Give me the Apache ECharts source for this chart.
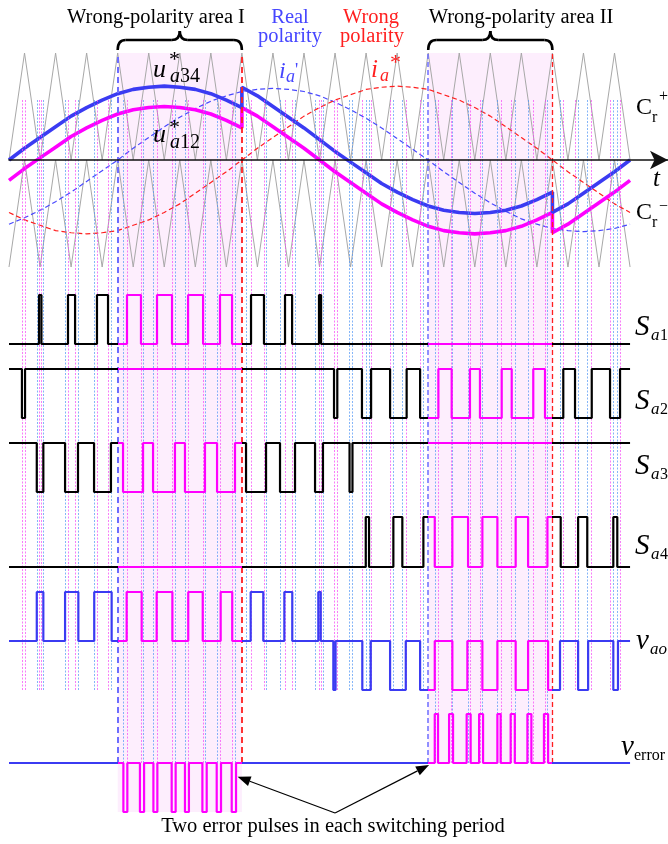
<!DOCTYPE html>
<html><head><meta charset="utf-8">
<script src="https://cdn.jsdelivr.net/npm/echarts/dist/echarts.min.js"></script>
<style>html,body{margin:0;padding:0;background:#fff}#c{width:668px;height:844px}</style>
</head><body><div id="c"></div>
<script>
// ---------- DATA (electrical angle in degrees, 20 carrier periods per fundamental) ----------
const wrongAreas = [[63, 135], [243, 315]];
const angles = [0,9,18,27,36,45,54,63,72,81,90,99,108,117,126,135,144,153,162,171,180,189,198,207,216,225,234,243,252,261,270,279,288,297,306,315,324,333,342,351,360];
const crUpper = [0,1,0,1,0,1,0,1,0,1,0,1,0,1,0,1,0,1,0,1,0,1,0,1,0,1,0,1,0,1,0,1,0,1,0,1,0,1,0,1,0];
const crLower = [-1,0,-1,0,-1,0,-1,0,-1,0,-1,0,-1,0,-1,0,-1,0,-1,0,-1,0,-1,0,-1,0,-1,0,-1,0,-1,0,-1,0,-1,0,-1,0,-1,0,-1];
const refAngles = [0,9,18,27,36,45,54,63,72,81,90,99,108,117,126,135,135,144,153,162,171,180,189,198,207,216,225,234,243,252,261,270,279,288,297,306,315,315,324,333,342,351,360];
const ua34 = [0,.11,.21,.31,.41,.49,.56,.62,.66,.68,.69,.68,.66,.62,.56,.49,.68,.60,.50,.40,.30,.19,.08,-.02,-.12,-.22,-.30,-.37,-.43,-.47,-.49,-.50,-.49,-.47,-.43,-.37,-.30,-.49,-.41,-.31,-.21,-.11,0];
const ua12 = [-.19,-.08,.02,.12,.22,.30,.37,.43,.47,.49,.50,.49,.47,.43,.37,.30,.49,.41,.31,.21,.11,0,-.11,-.21,-.31,-.41,-.49,-.56,-.62,-.66,-.68,-.69,-.68,-.66,-.62,-.56,-.49,-.68,-.60,-.50,-.40,-.30,-.19];
const iaReal = [-.60,-.54,-.47,-.39,-.30,-.20,-.10,0,.11,.21,.31,.40,.48,.55,.60,.64,.66,.67,.66,.64,.60,.54,.47,.39,.30,.20,.10,0,-.11,-.21,-.31,-.40,-.48,-.55,-.60,-.64,-.66,-.67,-.66,-.64,-.60];
const iaWrong = [-.49,-.56,-.61,-.66,-.68,-.69,-.68,-.66,-.61,-.56,-.49,-.41,-.31,-.21,-.11,0,.11,.21,.31,.41,.49,.56,.61,.66,.68,.69,.68,.66,.61,.56,.49,.41,.31,.21,.11,0,-.11,-.21,-.31,-.41,-.49];

// switching signals: [angle, level from this angle on]
const sa1 = [[0,0],[17.4,1],[18.8,0],[34.2,1],[38.3,0],[51.0,1],[57.4,0],[68.4,1],[76.5,0],[85.8,1],[94.5,0],[103.8,1],[112.5,0],[122.3,1],[129.3,0],[140.3,1],[147.8,0],[160.0,1],[164.1,0],[179.7,1],[180.9,0],[360,0]];
const sa2 = [[0,1],[7.5,0],[9.3,1],[188.4,0],[190.3,1],[204.6,0],[209.9,1],[220.9,0],[230.5,1],[238.3,0],[248.9,1],[256.6,0],[267.2,1],[273.0,0],[285.6,1],[291.4,0],[303.9,1],[310.7,0],[321.3,1],[328.1,0],[337.8,1],[348.4,0],[354.2,1],[360,1]];
const sa3 = [[0,1],[16.1,0],[19.9,1],[32.5,0],[40.0,1],[49.3,0],[59.1,1],[66.1,0],[77.7,1],[83.5,0],[96.2,1],[102.0,0],[113.6,1],[120.6,0],[131.0,1],[137.4,0],[149.0,1],[157.1,0],[165.8,1],[177.4,0],[182.0,1],[197.4,0],[199.1,1],[360,1]];
const sa4 = [[0,0],[206.8,1],[208.7,0],[222.8,1],[228.0,0],[240.2,1],[246.8,0],[257.0,1],[266.1,0],[274.4,1],[283.1,0],[293.7,1],[300.9,0],[312.1,1],[319.8,0],[329.9,1],[335.2,0],[350.3,1],[352.6,0],[360,0]];
const vao = [[0,0],[16.1,1],[19.9,0],[32.5,1],[40.2,0],[49.4,1],[59.5,0],[68.2,1],[76.9,0],[85.6,1],[94.7,0],[103.9,1],[112.3,0],[122.7,1],[129.4,0],[140.1,1],[147.4,0],[159.6,1],[164.2,0],[179.3,1],[180.7,0],[188.0,-1],[189.3,0],[204.8,-1],[209.7,0],[220.9,-1],[230.0,0],[238.3,-1],[246.8,0],[257.0,-1],[265.7,0],[274.4,-1],[283.1,0],[293.7,-1],[300.9,0],[312.5,-1],[319.4,0],[329.9,-1],[335.7,0],[350.3,-1],[353.0,0],[360,0]];
const verror = [[0,0],[66.3,-1],[68.6,0],[75.9,-1],[78.3,0],[83.7,-1],[86.0,0],[94.3,-1],[96.6,0],[102.0,-1],[104.3,0],[112.1,-1],[114.6,0],[120.4,-1],[122.9,0],[129.1,-1],[131.6,0],[246.8,1],[248.7,0],[255.1,1],[257.4,0],[265.3,1],[267.6,0],[272.5,1],[274.8,0],[283.1,1],[285.0,0],[290.8,1],[293.2,0],[300.5,1],[302.8,0],[310.1,1],[312.5,0],[360,0]];

// ---------- STYLE / LAYOUT ----------
const FONT = '"Liberation Serif","Times New Roman",serif';
const BLUE = '#3b3bf2', MAG = '#ff00ff', RED = '#ff1f1f', PINK = '#fdeefd', TBLUE = '#4646ff';
const X_MAX = 382;
const grids = [
  {top:53, height:214},   // 0 analog
  {top:295, height:49},   // 1 Sa1
  {top:369, height:49},   // 2 Sa2
  {top:443, height:49},   // 3 Sa3
  {top:517, height:50},   // 4 Sa4
  {top:592, height:98},   // 5 vao
  {top:714, height:98},   // 6 verror
  {top:53, height:710},   // 7 frame (shading + boundaries)
  {top:763, height:49},   // 8 area I extension
  {top:100, height:590},  // 9 guides
  {top:690, height:73}    // 10 guides inside areas
];
const yRanges = [[-1,1],[0,1],[0,1],[0,1],[0,1],[-1,1],[-1,1],[0,1],[0,1],[0,1],[0,1]];

const zip = (xs, ys) => xs.map((x, i) => [x, ys[i]]);
const edgesOf = sig => sig.slice(1, -1).map(p => p[0]);
const inAreas = t => wrongAreas.some(a => t >= a[0] && t <= a[1]);
const magGuides = edgesOf(sa1).concat(edgesOf(sa2));
const blueGuides = edgesOf(sa3).concat(edgesOf(sa4));

const series = [];
const add = s => { series.push(Object.assign({type:'line', symbol:'none', showSymbol:false, silent:true, clip:false, animation:false}, s)); return series.length - 1; };

// shading
add({xAxisIndex:7, yAxisIndex:7, data:[], z:0,
  markArea:{silent:true, itemStyle:{color:PINK}, data: wrongAreas.map(a => [{xAxis:a[0]}, {xAxis:a[1]}])}});
add({xAxisIndex:8, yAxisIndex:8, data:[], z:0,
  markArea:{silent:true, itemStyle:{color:PINK}, data: [[{xAxis:wrongAreas[0][0]}, {xAxis:wrongAreas[0][1]}]]}});
// guides
const guide = (gi, list, color) => add({xAxisIndex:gi, yAxisIndex:gi, data:[], z:1,
  markLine:{silent:true, symbol:['none','none'], label:{show:false}, animation:false,
    lineStyle:{color, width:1, type:[2,1.5]}, data: list.map(t => ({xAxis:t}))}});
guide(9, blueGuides, 'rgba(80,150,245,0.7)');
guide(9, magGuides, 'rgba(245,70,245,0.7)');
guide(10, blueGuides.filter(inAreas), 'rgba(80,150,245,0.7)');
guide(10, magGuides.filter(inAreas), 'rgba(245,70,245,0.7)');
// carriers
add({xAxisIndex:0, yAxisIndex:0, data: zip(angles, crUpper), z:2, lineStyle:{color:'#a8a8a8', width:1}});
add({xAxisIndex:0, yAxisIndex:0, data: zip(angles, crLower), z:2, lineStyle:{color:'#a8a8a8', width:1}});
// currents
add({xAxisIndex:0, yAxisIndex:0, data: zip(angles, iaReal), z:3, lineStyle:{color:'#4848ff', width:1.2, type:[5,3]}});
add({xAxisIndex:0, yAxisIndex:0, data: zip(angles, iaWrong), z:3, lineStyle:{color:RED, width:1.2, type:[5,3]}});
// references
add({xAxisIndex:0, yAxisIndex:0, data: zip(refAngles, ua12), z:4, lineStyle:{color:MAG, width:3.6}});
add({xAxisIndex:0, yAxisIndex:0, data: zip(refAngles, ua34), z:4, lineStyle:{color:BLUE, width:3.6}});
// digital signals
const blackIdx = [sa1, sa2, sa3, sa4].map((s, i) => add({xAxisIndex:i+1, yAxisIndex:i+1, data:s, step:'end', z:5, lineStyle:{width:2.2}}));
const blueIdx = [vao, verror].map((s, i) => add({xAxisIndex:i+5, yAxisIndex:i+5, data:s, step:'end', z:5, lineStyle:{width:2.2}}));
// area boundaries
add({xAxisIndex:7, yAxisIndex:7, data:[], z:6,
  markLine:{silent:true, symbol:['none','none'], label:{show:false}, animation:false, data:[
    {xAxis:wrongAreas[0][0], lineStyle:{color:'#6c6cff', width:2, type:[6,4]}},
    {xAxis:wrongAreas[0][1], lineStyle:{color:RED, width:1.8, type:[6,4]}},
    {xAxis:wrongAreas[1][0], lineStyle:{color:'#6c6cff', width:1.5, type:[5,3]}},
    {xAxis:wrongAreas[1][1], lineStyle:{color:RED, width:1.3, type:[5,3]}}
  ]}});

const pieces = base => {
  const p = [{lt: wrongAreas[0][0], color: base}];
  wrongAreas.forEach((a, i) => {
    p.push({gte:a[0], lte:a[1], color: MAG});
    const next = wrongAreas[i+1];
    if (next) p.push({gt:a[1], lt:next[0], color: base}); else p.push({gt:a[1], color: base});
  });
  return p;
};

const chart = echarts.init(document.getElementById('c'), null, {renderer:'canvas'});
chart.setOption({
  animation:false,
  backgroundColor:'#fff',
  grid: grids.map(g => ({left:9, right:0, top:g.top, height:g.height, containLabel:false})),
  xAxis: grids.map((g, i) => ({gridIndex:i, type:'value', min:0, max:X_MAX, show: i === 0, z: 8,
    axisLine:{show: i === 0, onZero:true, symbol:['none','arrow'], symbolSize:[14,18], lineStyle:{color:'#111', width:1.5}},
    axisTick:{show:false}, axisLabel:{show:false}, splitLine:{show:false}})),
  yAxis: grids.map((g, i) => ({gridIndex:i, type:'value', min:yRanges[i][0], max:yRanges[i][1], show:false, splitLine:{show:false}})),
  visualMap: [
    {type:'piecewise', show:false, dimension:0, seriesIndex: blackIdx, pieces: pieces('#000')},
    {type:'piecewise', show:false, dimension:0, seriesIndex: blueIdx, pieces: pieces(BLUE)}
  ],
  series
});

// ---------- ANNOTATIONS ----------
const px = (gi, t, v) => chart.convertToPixel({gridIndex:gi}, [t, v]);
const g = [];
const txt = (x, bl, text, font, fill, align) => {
  const size = parseFloat(font.match(/(\d+(\.\d+)?)px/)[1]);
  g.push({type:'text', silent:true, z:100, x:x, y: bl - 0.21*size,
    style:{text, font: font + ' ' + FONT, fill, align: align || 'left', verticalAlign:'middle', textAlign: align || 'left', textVerticalAlign:'middle'}});
};
const stroke = {stroke:'#000', lineWidth:2.6, fill:'none'};
const seg = (x1, y1, x2, y2) => g.push({type:'line', silent:true, z:100, shape:{x1, y1, x2, y2}, style:stroke});
const curve = (x1, y1, cx, cy, x2, y2) => g.push({type:'bezierCurve', silent:true, z:100, shape:{x1, y1, cpx1:cx, cpy1:cy, x2, y2}, style:stroke});
// bracket braces from area boundaries
wrongAreas.forEach(a => {
  const xa = px(0, a[0], 0)[0], xb = px(0, a[1], 0)[0], xc = (xa + xb) / 2;
  curve(xa, 50, xa, 40, xa + 8, 40);
  seg(xa + 8, 40, xc - 8, 40);
  curve(xc - 8, 40, xc, 40, xc, 31);
  curve(xc, 31, xc, 40, xc + 8, 40);
  seg(xc + 8, 40, xb - 8, 40);
  curve(xb - 8, 40, xb, 40, xb, 50);
});
txt(156, 22, 'Wrong-polarity area I', '20.5px', '#000', 'center');
txt(521, 22, 'Wrong-polarity area II', '20.5px', '#000', 'center');
txt(290, 22, 'Real', '20.5px', TBLUE, 'center');
txt(290, 41, 'polarity', '20.5px', TBLUE, 'center');
txt(371, 22, 'Wrong', '20.5px', RED, 'center');
txt(372, 41, 'polarity', '20.5px', RED, 'center');
// u*a34
txt(153, 76, 'u', 'italic 26px', '#000'); txt(169, 65, '*', '22px', '#000');
txt(170, 81, 'a', 'italic 20px', '#000'); txt(180, 81, '34', '20px', '#000');
// u*a12
txt(153, 141, 'u', 'italic 26px', '#000'); txt(169, 133, '*', '22px', '#000');
txt(170, 147, 'a', 'italic 20px', '#000'); txt(180, 147, '12', '20px', '#000');
// ia'
txt(279, 77, 'i', 'italic 24px', TBLUE); txt(286, 81, 'a', 'italic 18px', TBLUE); txt(295, 75, "'", '18px', TBLUE);
// ia*
txt(371, 76, 'i', 'italic 25px', RED); txt(380, 80, 'a', 'italic 18px', RED); txt(390, 68, '*', '22px', RED);
// carriers
txt(636, 113, 'C', '24px', '#000'); txt(652, 121, 'r', '16px', '#000'); txt(659, 100, '+', '16px', '#000');
txt(636, 218, 'C', '24px', '#000'); txt(652, 226, 'r', '16px', '#000'); txt(659, 210, '\u2212', '16px', '#000');
txt(653, 185, 't', 'italic 25px', '#000');
// switching signal names
[[333,'1'],[407,'2'],[472,'3'],[552,'4']].forEach(([bl, n]) => {
  txt(635, bl, 'S', 'italic 29px', '#000');
  txt(651, bl + 6, 'a', 'italic 17px', '#000');
  txt(660, bl + 6, n, '16px', '#000');
});
txt(636, 647, 'v', 'italic 29px', '#000'); txt(650, 653, 'ao', 'italic 17px', '#000');
txt(621, 753, 'v', 'italic 29px', '#000'); txt(634, 759, 'error', '16px', '#000');
txt(333, 831, 'Two error pulses in each switching period', '20.5px', '#000', 'center');
// arrows to the error pulses
const start = px(6, 189, -1.02);
[px(6, 132.5, -0.28), px(6, 243.5, -0.04)].forEach(tip => {
  const dx = tip[0] - start[0], dy = tip[1] - start[1], L = Math.hypot(dx, dy);
  const ux = dx / L, uy = dy / L, len = 13, hw = 5;
  const bx = tip[0] - ux * len, by = tip[1] - uy * len;
  g.push({type:'line', silent:true, z:100, shape:{x1:start[0], y1:start[1], x2:bx, y2:by}, style:{stroke:'#000', lineWidth:1.2}});
  g.push({type:'polygon', silent:true, z:100, shape:{points:[[tip[0], tip[1]], [bx - uy*hw, by + ux*hw], [bx + uy*hw, by - ux*hw]]}, style:{fill:'#000'}});
});
chart.setOption({graphic: g});
</script></body></html>
